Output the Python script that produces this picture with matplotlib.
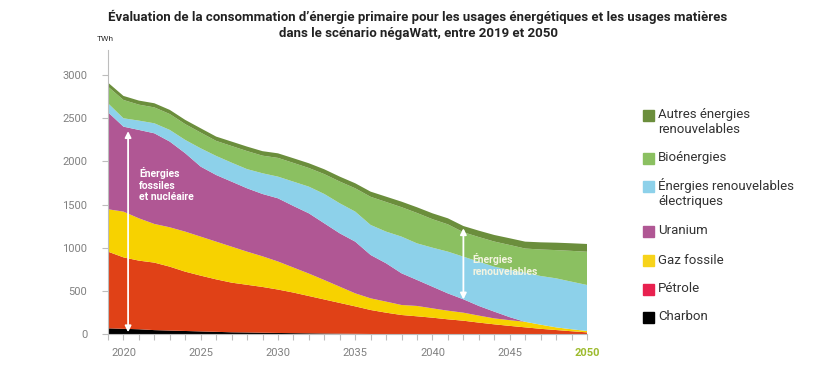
import matplotlib
matplotlib.use('Agg')
import matplotlib.pyplot as plt
from matplotlib.patches import Rectangle

############## Data (TWh)

years = list(range(2019, 2051))

charbon = [66, 60, 55, 45, 40, 35, 30, 25, 20, 18, 15,
           12, 10, 8, 6, 4, 2, 0, 0, 0, 0,
           0, 0, 0, 0, 0, 0, 0, 0, 0, 0, 0]
petrole = [888, 828, 795, 782, 740, 687, 646, 608, 575, 552, 530,
           503, 470, 432, 394, 356, 318, 278, 247, 220, 205,
           189, 170, 154, 132, 112, 94, 77, 60, 46, 32, 19]
gaz = [491, 530, 490, 448, 456, 464, 452, 437, 417, 384, 355,
       325, 290, 260, 225, 188, 151, 135, 128, 116, 120,
       108, 100, 93, 81, 69, 66, 64, 48, 31, 23, 16]
uranium = [1124, 984, 1024, 1050, 993, 908, 811, 772, 753, 734, 722,
           732, 713, 698, 657, 618, 599, 502, 444, 367, 301,
           251, 200, 155, 112, 78, 35, 0, 0, 0, 0, 0]
renouv_elec = [104, 97, 108, 116, 135, 154, 212, 221, 220, 222, 240,
               251, 282, 309, 340, 348, 348, 348, 367, 425, 424,
               452, 484, 494, 513, 521, 547, 570, 564, 568, 551, 533]
bio = [193, 212, 185, 184, 184, 183, 182, 174, 193, 209, 204,
       217, 217, 216, 230, 252, 270, 326, 343, 341, 352,
       330, 316, 283, 285, 291, 289, 279, 307, 327, 357, 385]
autres = [46, 47, 47, 48, 48, 49, 50, 50, 51, 52, 52,
          53, 54, 55, 56, 57, 58, 60, 62, 64, 66,
          68, 70, 72, 74, 76, 78, 80, 83, 86, 88, 90]

series = [charbon, petrole, gaz, uranium, renouv_elec, bio, autres]
area_colors = ['#000000', '#E04117', '#F7D200', '#B05794',
               '#8DD1EA', '#8BC061', '#6B8E3C']

legend_labels = ['Autres énergies\nrenouvelables', 'Bioénergies',
                 'Énergies renouvelables\nélectriques', 'Uranium',
                 'Gaz fossile', 'Pétrole', 'Charbon']
legend_colors = ['#6B8E3C', '#8BC061', '#8DD1EA', '#B05794',
                 '#F7D31A', '#E8214F', '#000000']

y_ticks = [0, 500, 1000, 1500, 2000, 2500, 3000]
x_labels = [2020, 2025, 2030, 2035, 2040, 2045, 2050]

##############

plt.rcParams['font.family'] = ['Roboto', 'DejaVu Sans']

fig = plt.figure(figsize=(8.15, 3.88), dpi=100)
ax = fig.add_axes([108 / 815, 1 - 334 / 388, (587 - 108) / 815, (334 - 50) / 388])

ax.stackplot(years, *series, colors=area_colors, linewidth=0, antialiased=True)

ax.set_xlim(2019, 2050)
ax.set_ylim(0, 3290)

grey = '#BDBDBD'
for side in ('top', 'right'):
    ax.spines[side].set_visible(False)
for side in ('left', 'bottom'):
    ax.spines[side].set_color(grey)
    ax.spines[side].set_linewidth(0.8)

ax.set_yticks(y_ticks)
ax.set_yticklabels([str(v) for v in y_ticks])
ax.set_xticks(years, minor=True)
ax.set_xticks(x_labels)
ax.set_xticklabels([str(v) for v in x_labels])
ax.tick_params(axis='both', which='both', color=grey, width=0.8, length=4,
               labelsize=8, labelcolor='#808080')
ax.tick_params(axis='x', which='major', pad=6)
ax.tick_params(axis='y', which='major', pad=11)
last = ax.get_xticklabels()[-1]
last.set_color('#9DBB2E')
last.set_fontweight('bold')

fig.text(105 / 815, 1 - 39 / 388, 'TWh', fontsize=6, color='#333333',
         ha='center', va='center')

# title, one text per line
title_lines = ['Évaluation de la consommation d\u2019énergie primaire pour les usages énergétiques et les usages matières',
               'dans le scénario négaWatt, entre 2019 et 2050']
for line, ty in zip(title_lines, [17, 33]):
    fig.text(418 / 815, 1 - ty / 388, line, fontsize=9.5, fontweight='bold',
             color='#222222', ha='center', va='center')

# annotations inside the areas
ax.annotate('', xy=(2020.3, 20), xytext=(2020.3, 2350),
            arrowprops=dict(arrowstyle='<|-|>', color='white', lw=1.3,
                            mutation_scale=9, shrinkA=0, shrinkB=0))
ax.text(2021.0, 1730, 'Énergies\nfossiles\net nucléaire', color='white',
        fontsize=7.5, fontweight='bold', ha='left', va='center', linespacing=1.2)

ax.annotate('', xy=(2042.0, 400), xytext=(2042.0, 1225),
            arrowprops=dict(arrowstyle='<|-|>', color='white', lw=1.3,
                            mutation_scale=9, shrinkA=0, shrinkB=0))
ax.text(2042.6, 800, 'Énergies\nrenouvelables', color='#F4F4E0',
        fontsize=7.5, fontweight='bold', ha='left', va='center', linespacing=1.2)

# legend on the right
legend_y = [122, 158, 193, 231, 260, 289, 317]
for label, color, ly in zip(legend_labels, legend_colors, legend_y):
    first_line = ly - 7 if '\n' in label else ly
    fig.patches.append(Rectangle((643 / 815, 1 - (first_line + 5.5) / 388),
                                 11 / 815, 11 / 388, transform=fig.transFigure,
                                 color=color, figure=fig))
    fig.text(658 / 815, 1 - ly / 388, label, fontsize=9.5, color='#333333',
             ha='left', va='center', linespacing=1.15)

fig.savefig('out.png', dpi=100)
